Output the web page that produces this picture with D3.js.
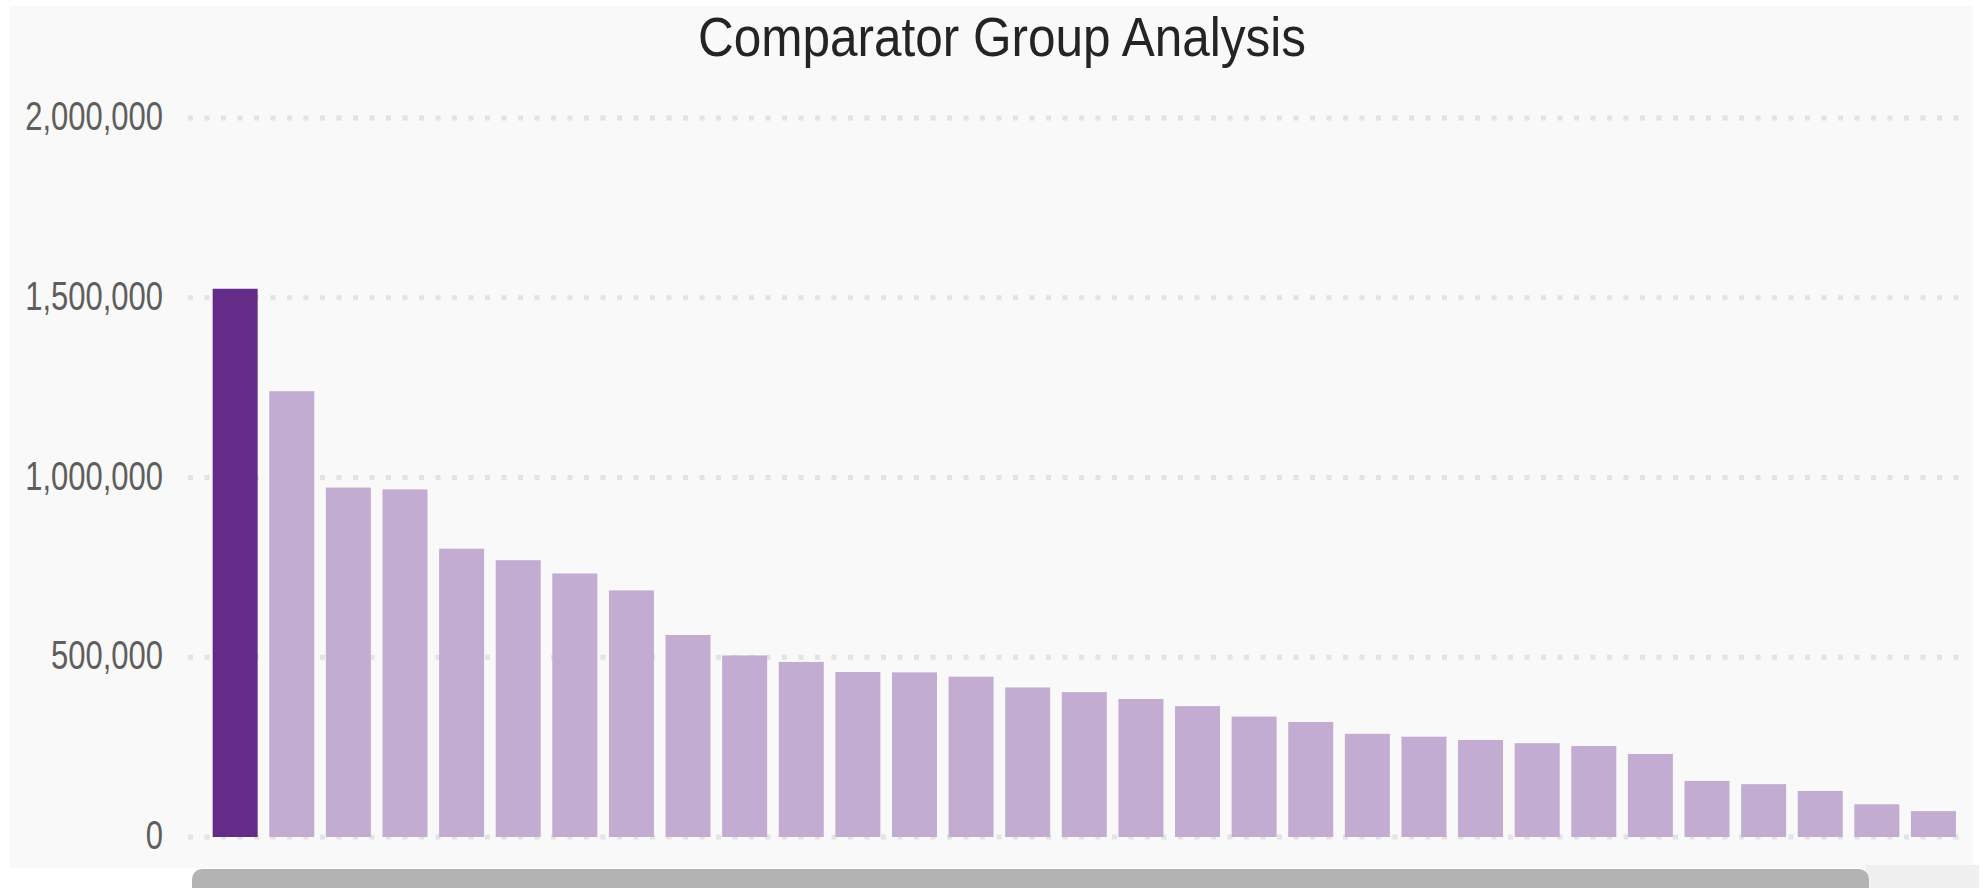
<!DOCTYPE html>
<html lang="en">
  <head>
    <meta charset="UTF-8" />
    <title>Comparator Group Analysis</title>
    <script src="https://d3js.org/d3.v7.min.js"></script>
    <style>
      html,
      body {
        margin: 0;
        padding: 0;
        background: #ffffff;
      }
      svg {
        display: block;
      }
    </style>
  </head>
  <body>
    <svg id="barChart" width="1983" height="888"></svg>

    <script>
      // data
      const categories = [
        "Subject", "Peer 01", "Peer 02", "Peer 03", "Peer 04", "Peer 05",
        "Peer 06", "Peer 07", "Peer 08", "Peer 09", "Peer 10", "Peer 11",
        "Peer 12", "Peer 13", "Peer 14", "Peer 15", "Peer 16", "Peer 17",
        "Peer 18", "Peer 19", "Peer 20", "Peer 21", "Peer 22", "Peer 23",
        "Peer 24", "Peer 25", "Peer 26", "Peer 27", "Peer 28", "Peer 29",
        "Peer 30",
      ];
      const values = [
        1525000, 1240000, 972000, 967000, 802000, 770000, 733000, 686000,
        562000, 505000, 487000, 459000, 458000, 446000, 416000, 403000,
        384000, 364000, 335000, 320000, 287000, 279000, 270000, 261000,
        253000, 231000, 156000, 147000, 128000, 91000, 72000,
      ];
      const highlighted = ["Subject"];
      const yTicks = [0, 500000, 1000000, 1500000, 2000000];
      const chartTitle = "Comparator Group Analysis";

      const data = categories.map((c, i) => ({ name: c, value: values[i] }));

      const svg = d3.select("#barChart");
      const fontFamily = "'Liberation Sans', Arial, sans-serif";

      // panel background
      svg
        .append("rect")
        .attr("x", 10)
        .attr("y", 6)
        .attr("width", 1963)
        .attr("height", 862)
        .attr("fill", "#f9f9f9");

      const x = d3
        .scaleBand()
        .domain(categories)
        .range([207, 1961.6])
        .paddingInner(0.205)
        .paddingOuter(0.1);

      const y = d3.scaleLinear().domain([0, 2000000]).range([837, 118]);

      // dotted gridlines
      svg
        .append("g")
        .selectAll("line")
        .data(yTicks)
        .enter()
        .append("line")
        .attr("x1", 188)
        .attr("x2", 1970)
        .attr("y1", (d) => y(d))
        .attr("y2", (d) => y(d))
        .attr("stroke", "#e3e3e3")
        .attr("stroke-width", 5)
        .attr("stroke-dasharray", "5 11.5");

      // y labels, squeezed horizontally to match the narrow UI font
      const fmt = d3.format(",");
      svg
        .append("g")
        .selectAll("text")
        .data(yTicks)
        .enter()
        .append("text")
        .attr("transform", (d) => `translate(163,${y(d) + 12}) scale(0.775,1)`)
        .attr("text-anchor", "end")
        .attr("fill", "#605e5c")
        .style("font-family", fontFamily)
        .style("font-size", "40px")
        .text((d) => fmt(d));

      // bars
      svg
        .append("g")
        .selectAll("rect")
        .data(data)
        .enter()
        .append("rect")
        .attr("x", (d) => x(d.name))
        .attr("y", (d) => y(d.value))
        .attr("width", x.bandwidth())
        .attr("height", (d) => y(0) - y(d.value))
        .attr("fill", (d) =>
          highlighted.includes(d.name) ? "#652b88" : "#c2acd1"
        );

      // title
      svg
        .append("text")
        .attr("transform", "translate(1002,56) scale(0.9,1)")
        .attr("text-anchor", "middle")
        .attr("fill", "#252423")
        .style("font-family", fontFamily)
        .style("font-size", "55px")
        .text(chartTitle);

      // horizontal scrollbar below the plot
      svg
        .append("rect")
        .attr("x", 1865)
        .attr("y", 865)
        .attr("width", 114)
        .attr("height", 30)
        .attr("fill", "#f0f0f0");

      svg
        .append("rect")
        .attr("x", 192)
        .attr("y", 869)
        .attr("width", 1677)
        .attr("height", 30)
        .attr("rx", 10)
        .attr("fill", "#b3b3b3");
    </script>
  </body>
</html>
